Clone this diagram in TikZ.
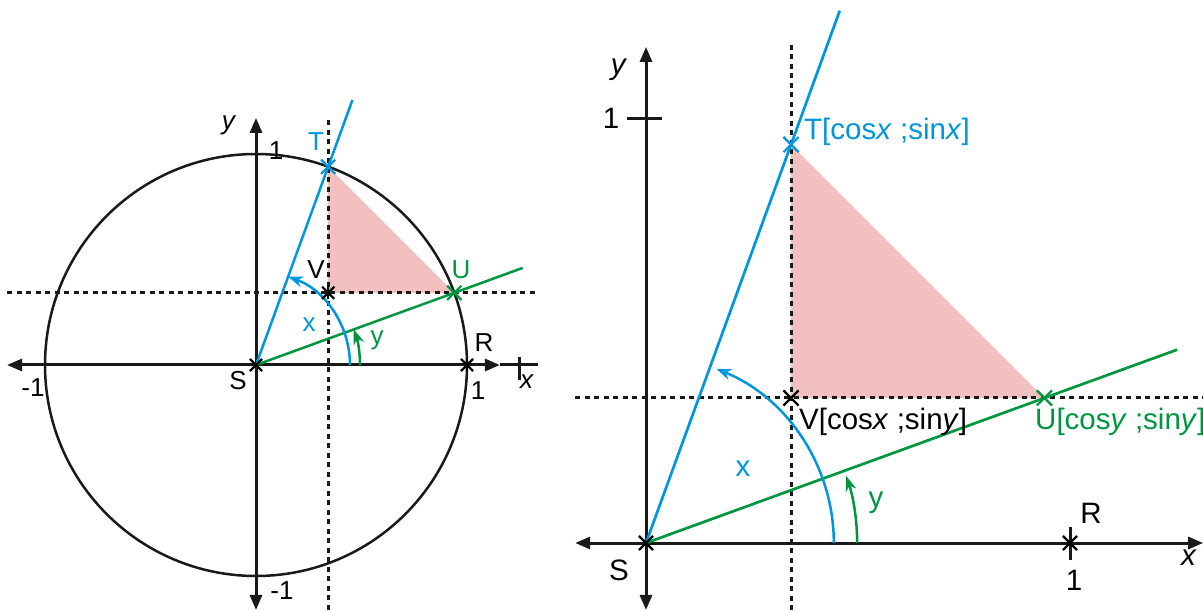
\documentclass[tikz,border=0pt]{standalone}
\usepackage{fontspec}
\setmainfont{Liberation Sans}
\usetikzlibrary{arrows.meta,shapes.misc}
\definecolor{cblue}{RGB}{0,150,220}
\definecolor{cgreen}{RGB}{0,150,64}
\definecolor{cpink}{RGB}{242,192,190}
\tikzset{
  >={Triangle[length=15pt,width=12pt]},
  axis/.style={line width=3pt, black!90},
  dashln/.style={line width=3pt, black!90, dash pattern=on 5pt off 4.5pt},
  bl/.style={cblue, line width=2.5pt},
  gl/.style={cgreen, line width=2.5pt},
  mk/.style={cross out, draw, minimum size=11pt, inner sep=0pt, line width=2.2pt},
  lbl/.style={inner sep=0pt, font=\fontsize{26}{30}\selectfont},
  rlbl/.style={inner sep=0pt, font=\fontsize{29.5}{34}\selectfont},
  arcarrow/.style={-{Stealth[length=15pt,width=11pt]}},
}
\begin{document}
\begin{tikzpicture}[x=1pt,y=-1pt]
\useasboundingbox (0,0) rectangle (1203,612);

% ================= LEFT DIAGRAM =================
\begin{scope}[shift={(256,365)}, x=211pt, y=211pt]
  \coordinate (S) at (0,0);
  \coordinate (T) at (70:1);
  \coordinate (U) at (20:1);
  \coordinate (V) at ({cos(70)},{sin(20)});
  \coordinate (R) at (1,0);
  \fill[cpink] (T) -- (V) -- (U) -- cycle;
  \coordinate (hl) at (-1.18,{sin(20)});
  \coordinate (hr) at (1.336,{sin(20)});
  \coordinate (vt) at ({cos(70)},1.161);
  \coordinate (vb) at ({cos(70)},-1.2);
  \draw[dashln] (hl) -- (hr);
  \draw[dashln] (vt) -- (vb);
  \draw[line width=2.5pt, black!90] (S) circle (1);
  \coordinate (xl) at (-1.18,0);
  \coordinate (xr) at (1.156,0);
  \coordinate (xe) at (1.336,0);
  \coordinate (xt1) at (1.251,0.038);
  \coordinate (xt2) at (1.251,-0.071);
  \coordinate (yb) at (0,-1.161);
  \coordinate (yt) at (0,1.171);
  \draw[axis,<->] (xl) -- (xr);
  \draw[axis] (xr) -- (xe);
  \draw[axis] (xt1) -- (xt2);
  \draw[axis,<->] (yb) -- (yt);
  \coordinate (Te) at (70:1.336);
  \coordinate (Ue) at (20:1.345);
  \draw[bl] (S) -- (Te);
  \draw[gl] (S) -- (Ue);
  \coordinate (ba) at (0.4455,0);
  \coordinate (ga) at (0.493,0);
  \draw[bl,arcarrow] (ba) arc[start angle=0,end angle=70,radius=0.4455];
  \draw[gl,arcarrow] (ga) arc[start angle=0,end angle=20,radius=0.493];
  \node[mk,black,minimum size=10pt] (Sm) at (S) {};
  \node[mk,cblue,minimum size=12pt] (Tm) at (T) {};
  \node[mk,cgreen,minimum size=12pt] (Um) at (U) {};
  \node[mk,black,minimum size=10pt] (Vm) at (V) {};
  \draw[line width=2.2pt] (Vm.north) -- (Vm.south);
  \node[mk,black,minimum size=10pt] (Rm) at (R) {};
  \draw[line width=2.2pt] (Rm.north) -- (Rm.south);
\end{scope}
\node[lbl] (ly) at (229,125) {\textit{y}};
\node[lbl] (l1t) at (276,151) {1};
\node[lbl,text=cblue] (lT) at (316,142) {T};
\node[lbl] (lV) at (316,270) {V};
\node[lbl,text=cgreen] (lU) at (461,270) {U};
\node[lbl,text=cblue] (lx) at (309,325) {x};
\node[lbl,text=cgreen] (lyg) at (377,340) {y};
\node[lbl] (lR) at (484,343) {R};
\node[lbl] (lxa) at (527,382) {\textit{x}};
\node[lbl] (l1r) at (478,391) {1};
\node[lbl] (lm1) at (33,388) {-1};
\node[lbl] (lS) at (238,381) {S};
\node[lbl] (lm1b) at (282,591) {-1};

% ================= RIGHT DIAGRAM =================
\begin{scope}[shift={(646,543)}, x=424pt, y=424pt]
  \coordinate (S2) at (0,0);
  \coordinate (T2) at (70:1);
  \coordinate (U2) at (20:1);
  \coordinate (V2) at ({cos(70)},{sin(20)});
  \coordinate (R2) at (1,0);
  \fill[cpink] (T2) -- (V2) -- (U2) -- cycle;
  \coordinate (hl2) at (-0.167,{sin(20)});
  \coordinate (hr2) at (1.314,{sin(20)});
  \coordinate (vt2) at ({cos(70)},1.175);
  \coordinate (vb2) at ({cos(70)},-0.17);
  \draw[dashln] (hl2) -- (hr2);
  \draw[dashln] (vt2) -- (vb2);
  \coordinate (xl2) at (-0.167,0);
  \coordinate (xr2) at (1.314,0);
  \coordinate (yb2) at (0,-0.158);
  \coordinate (yt2) at (0,1.170);
  \draw[axis,<->] (xl2) -- (xr2);
  \draw[axis,<->] (yb2) -- (yt2);
  \coordinate (yk1) at (-0.045,1);
  \coordinate (yk2) at (0.038,1);
  \draw[axis] (yk1) -- (yk2);
  \coordinate (rk1) at (1,0.038);
  \coordinate (rk2) at (1,-0.040);
  \draw[axis] (rk1) -- (rk2);
  \coordinate (Te2) at (70:1.336);
  \coordinate (Ue2) at (20:1.333);
  \draw[bl,line width=2.7pt] (S2) -- (Te2);
  \draw[gl,line width=2.7pt] (S2) -- (Ue2);
  \coordinate (ba2) at (0.443,0);
  \coordinate (ga2) at (0.498,0);
  \draw[bl,arcarrow] (ba2) arc[start angle=0,end angle=68,radius=0.443];
  \draw[gl,arcarrow] (ga2) arc[start angle=0,end angle=18.5,radius=0.498];
  \node[mk,black,minimum size=12pt] (S2m) at (S2) {};
  \node[mk,black,minimum size=12pt] (R2m) at (R2) {};
  \node[mk,cblue,minimum size=13pt] (T2m) at (T2) {};
  \node[mk,black,minimum size=13pt] (V2m) at (V2) {};
  \node[mk,cgreen,minimum size=13pt] (U2m) at (U2) {};
\end{scope}
\node[rlbl] (ry) at (619,70) {\textit{y}};
\node[rlbl] (r1y) at (611,118) {1};
\node[rlbl,text=cblue,anchor=west] (rT) at (804,132) {T[cos\textit{x} ;sin\textit{x}]};
\node[rlbl,anchor=west] (rV) at (799,422) {V[cos\textit{x} ;sin\textit{y}]};
\node[rlbl,text=cgreen,anchor=west] (rU) at (1035,422) {U[cos\textit{y} ;sin\textit{y}]};
\node[rlbl,text=cblue] (rx) at (743,469) {x};
\node[rlbl,text=cgreen] (ryg) at (876,503) {y};
\node[rlbl] (rR) at (1091,513) {R};
\node[rlbl] (r1) at (1074,580) {1};
\node[rlbl] (rxa) at (1189,558) {\textit{x}};
\node[rlbl] (rS) at (619,570) {S};
\end{tikzpicture}
\end{document}
